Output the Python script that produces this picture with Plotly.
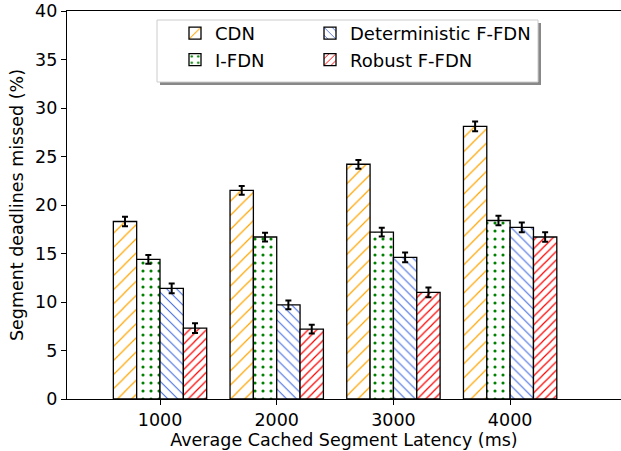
import plotly.graph_objects as go

categories = ["1000", "2000", "3000", "4000"]
series_names = ["CDN", "I-FDN", "Deterministic F-FDN", "Robust F-FDN"]
cdn = [18.3, 21.5, 24.2, 28.1]
ifdn = [14.4, 16.7, 17.2, 18.4]
det = [11.4, 9.7, 14.6, 17.7]
robust = [7.3, 7.2, 11.0, 16.7]
cdn_err = [0.5, 0.45, 0.45, 0.5]
ifdn_err = [0.45, 0.45, 0.45, 0.5]
det_err = [0.5, 0.45, 0.5, 0.5]
robust_err = [0.5, 0.45, 0.5, 0.5]
y_ticks = [0, 5, 10, 15, 20, 25, 30, 35, 40]

colors = ["#FFA500", "#008000", "#4169E1", "#FF0000"]
shapes_ = ["/", ".", "\\", "/"]
sizes_ = [10, 8, 7, 6]
solid = [0.12, 0.12, 0.15, 0.2]
values = [cdn, ifdn, det, robust]
errs = [cdn_err, ifdn_err, det_err, robust_err]
legends = ["legend", "legend", "legend2", "legend2"]

W, H = 621, 451
ml, mr, mt, mb = 67, 0, 11, 52
pw, ph = W - ml - mr, H - mt - mb
FONT = "DejaVu Sans"
FS = 17.5

fig = go.Figure()
for i in range(4):
    fig.add_trace(go.Bar(
        x=categories, y=values[i], name=series_names[i],
        legend=legends[i],
        marker=dict(color="white", line=dict(color="black", width=1.3),
                    pattern=dict(shape=shapes_[i], fgcolor=colors[i], size=sizes_[i],
                                 solidity=solid[i], fillmode="overlay", fgopacity=1)),
        error_y=dict(type="data", array=errs[i], color="black", thickness=2, width=3),
    ))

def px_x(p):
    return (p - ml) / pw

def px_y(p):
    return (H - mb - p) / ph

box_l, box_r, box_t, box_b = 157, 538, 20, 82
shapes = [
    dict(type="rect", xref="paper", yref="paper",
         x0=px_x(box_l + 3), x1=px_x(box_r + 3), y0=px_y(box_b + 3), y1=px_y(box_t + 3),
         fillcolor="#888888", line=dict(width=0), layer="above"),
    dict(type="rect", xref="paper", yref="paper",
         x0=px_x(box_l), x1=px_x(box_r), y0=px_y(box_b), y1=px_y(box_t),
         fillcolor="white", line=dict(color="#cccccc", width=1), layer="above"),
]

fig.update_layout(
    width=W, height=H,
    margin=dict(l=ml, r=mr, t=mt, b=mb, autoexpand=False),
    paper_bgcolor="white", plot_bgcolor="white",
    font=dict(family=FONT, size=FS, color="black"),
    barmode="group", bargap=0.2, bargroupgap=0,
    showlegend=True,
    shapes=shapes,
    legend=dict(x=px_x(box_l + 18), y=px_y(box_t - 5), xanchor="left", yanchor="top",
                bgcolor="rgba(0,0,0,0)", font=dict(size=18), tracegroupgap=0,
                itemwidth=30),
    legend2=dict(x=px_x(box_l + 153), y=px_y(box_t - 5), xanchor="left", yanchor="top",
                 bgcolor="rgba(0,0,0,0)", font=dict(size=18), tracegroupgap=0,
                 itemwidth=30),
    xaxis=dict(type="category", range=[-0.797, 3.95], showline=True, mirror=True,
               linecolor="black", linewidth=1.2, ticks="outside", ticklen=5,
               tickcolor="black", showgrid=False, automargin=False,
               title=dict(text="Average Cached Segment Latency (ms)", font=dict(size=FS), standoff=3),
               tickfont=dict(size=FS)),
    yaxis=dict(range=[0, 40], tickvals=y_ticks, showline=True, mirror=False,
               linecolor="black", linewidth=1.2, ticks="outside", ticklen=5,
               tickcolor="black", showgrid=False, zeroline=False, automargin=False,
               title=dict(text="Segment deadlines missed (%)", font=dict(size=FS), standoff=6),
               tickfont=dict(size=FS)),
)

fig.write_html("out.html", config={"displayModeBar": False},
               post_script="document.body.style.margin='0';document.body.style.overflow='hidden';")
